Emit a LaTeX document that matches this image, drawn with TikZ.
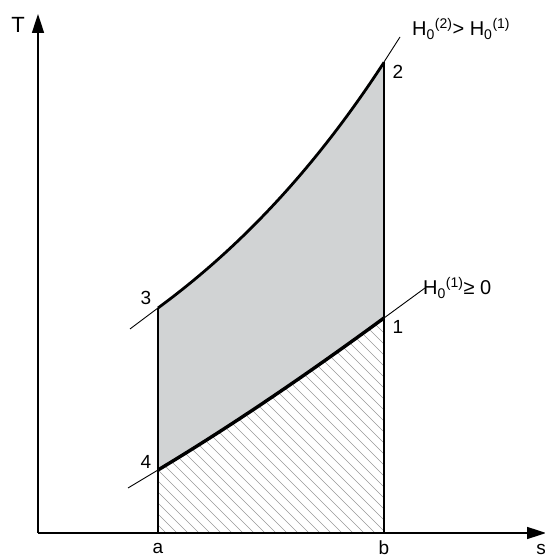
\documentclass[tikz,border=0pt]{standalone}
\usepackage{fontspec}
\setmainfont{Liberation Sans}
\usetikzlibrary{arrows.meta}
\definecolor{cyclegray}{HTML}{D1D3D4}
\newcommand{\Hnull}[1]{H\textsubscript{0}\textsuperscript{(#1)}}
\begin{document}
\begin{tikzpicture}[x=1pt,y=1pt,
  axis/.style={line width=1.6pt,-{Triangle[length=19pt,width=12pt]}},
  cycleline/.style={line width=2.8pt,line join=round},
  extline/.style={line width=0.9pt},
  hatchline/.style={line width=0.5pt,draw=black!40},
  lbl/.style={font=\fontsize{19}{22}\selectfont,inner sep=0pt},
  hlbl/.style={font=\fontsize{20}{24}\selectfont,inner sep=0pt,anchor=base west}]
\useasboundingbox (0,0) rectangle (545,558);
% points
\coordinate (O) at (38,25);
\coordinate (Ytip) at (38,544);
\coordinate (Xtip) at (546,25);
\coordinate (a) at (158,25);
\coordinate (b) at (384,25);
\coordinate (p1) at (384,240);
\coordinate (p2) at (384,496);
\coordinate (p3) at (158,250);
\coordinate (p4) at (158,88);
\coordinate (e3) at (130,229);
\coordinate (e2) at (400,521);
\coordinate (e4) at (128,70);
\coordinate (e1) at (425,270);
% gray area
\fill[cyclegray] (p4) -- (p3)
  -- plot[domain=0:226,samples=60] ({158+\x},{25+225*exp(0.003269*\x)})
  -- (p1) .. controls (309,185) and (233,133) .. (p4) -- cycle;
% hatched area
\begin{scope}
\clip (a) -- (p4) .. controls (233,133) and (309,185) .. (p1) -- (b) -- cycle;
\foreach \i in {0,...,42}
  \draw[hatchline] ({-120+11*\i},300) -- ++(300,-300);
\end{scope}
% extension lines
\draw[extline] (e3) -- (p3);
\draw[extline] (p2) -- (e2);
\draw[extline] (e4) -- (p4);
\draw[extline] (p1) -- (e1);
% axes
\draw[axis] (O) -- (Ytip);
\draw[axis] (O) -- (Xtip);
% cycle
\draw[cycleline] (p3) -- plot[domain=0:226,samples=60] ({158+\x},{25+225*exp(0.003269*\x)});
\draw[cycleline,line width=3.4pt] (p4) .. controls (233,133) and (309,185) .. (p1);
\draw[cycleline] (a) -- (p3);
\draw[cycleline] (b) -- (p2);
\draw[cycleline] (a) -- (b);
% labels
\node[lbl,font=\fontsize{22}{26}\selectfont] (T) at (18,533) {T};
\node[lbl] (s) at (541,9) {s};
\node[lbl] (la) at (158,10) {a};
\node[lbl] (lb) at (384,10) {b};
\node[lbl] (l1) at (398,231) {1};
\node[lbl] (l2) at (398,486) {2};
\node[lbl] (l3) at (146,260) {3};
\node[lbl] (l4) at (146,96) {4};
\node[hlbl] (h2) at (412,522) {\Hnull{2}> \Hnull{1}};
\node[hlbl] (h1) at (423,263) {\Hnull{1}≥ 0};
\end{tikzpicture}
\end{document}
